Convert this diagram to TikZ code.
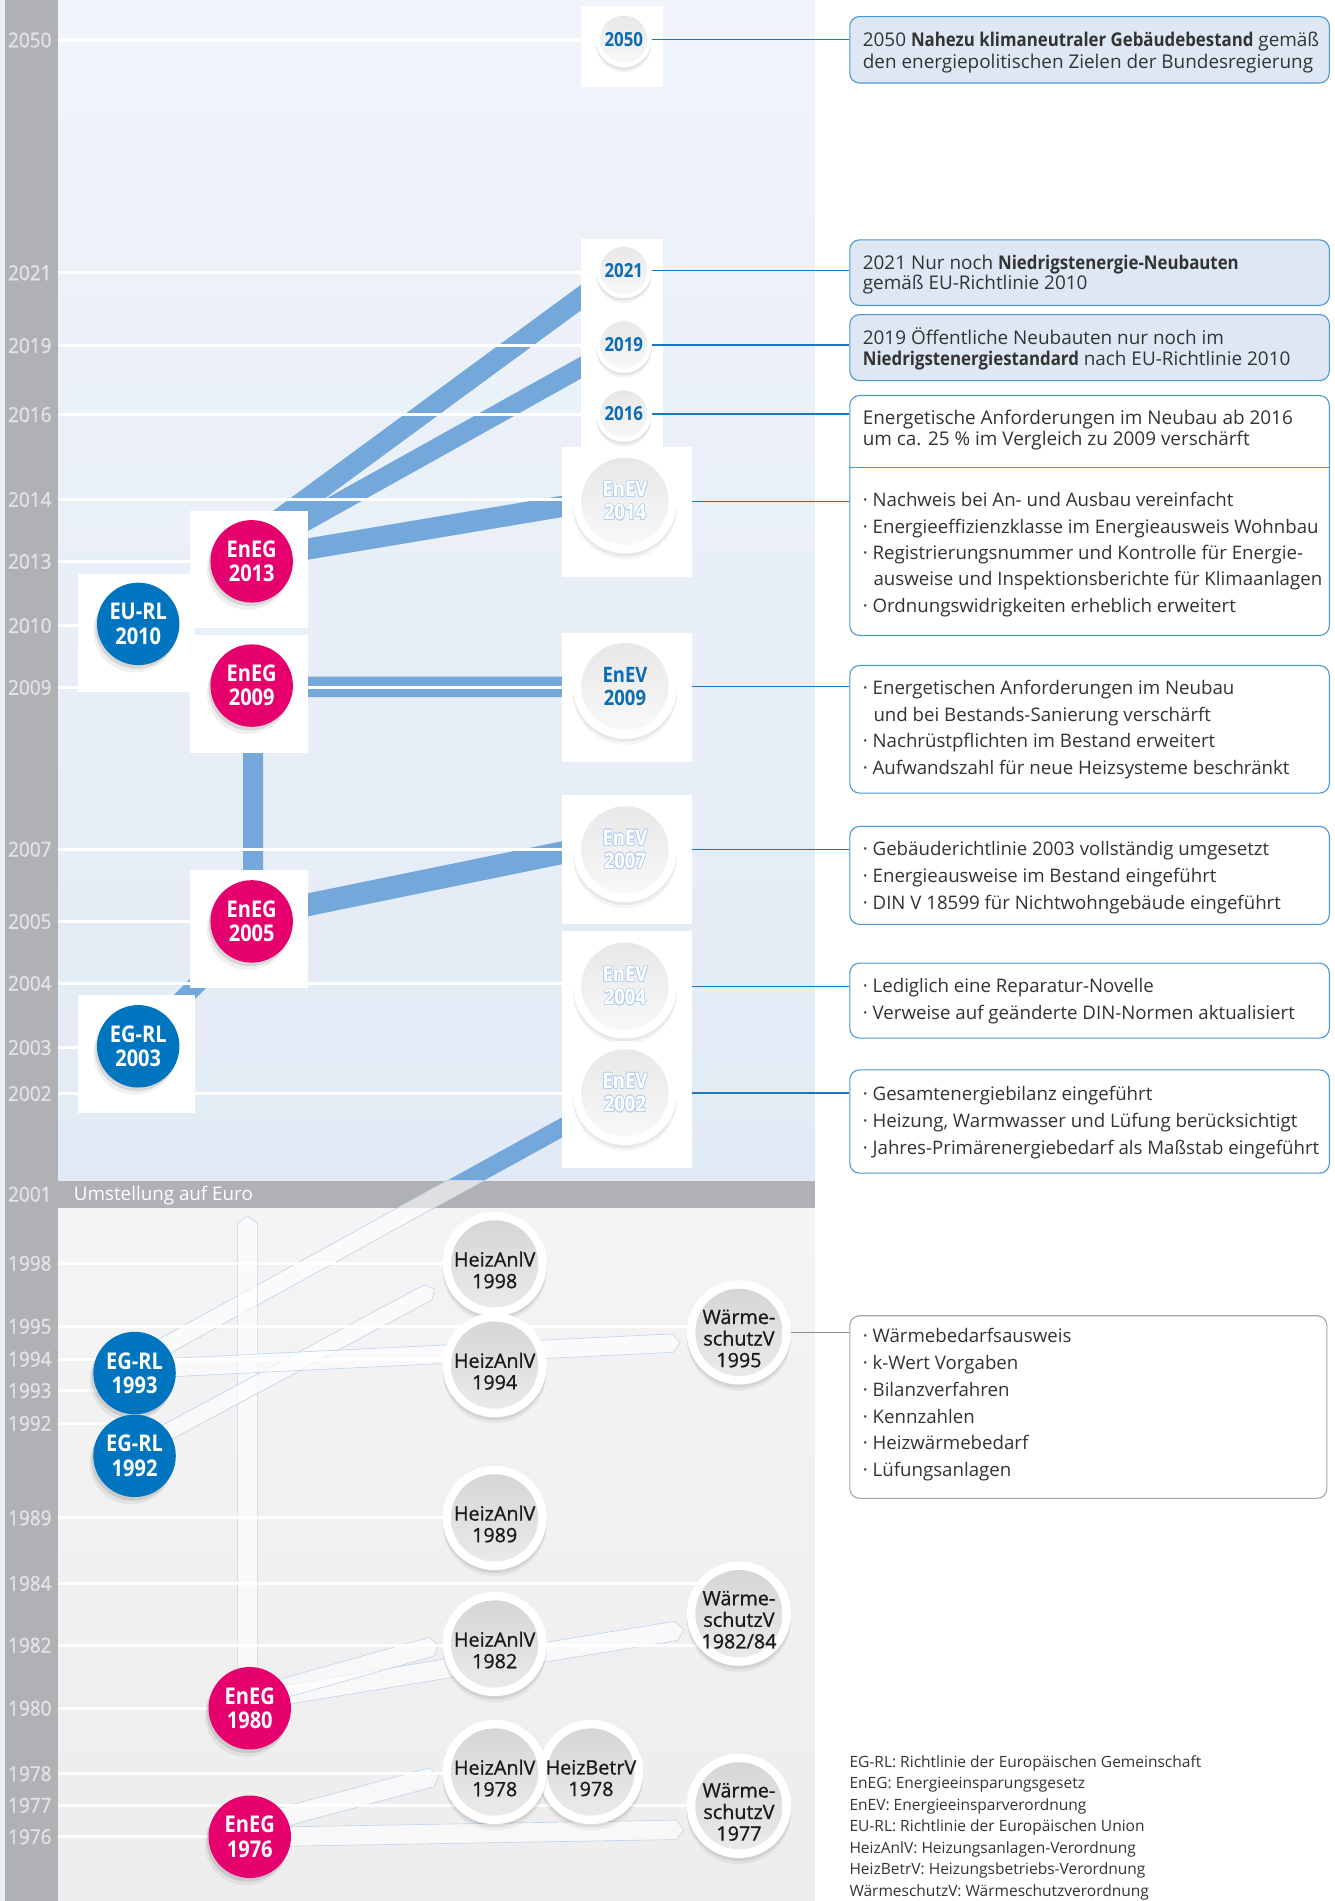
\documentclass[tikz,border=0pt]{standalone}
\usepackage{fontspec}
\setmainfont{Open Sans}[BoldFeatures={FakeStretch=0.89}]
\newfontfamily\condfont[FakeStretch=0.87]{Open Sans}
\newfontfamily\yearfont[FakeStretch=0.92, FakeBold=1.2]{Open Sans}
\newfontfamily\ringfont[FakeBold=0.8]{Open Sans}
\usepackage[copies]{contour}
\contourlength{0.55pt}
\contournumber{20}
\usetikzlibrary{calc}
\definecolor{upbgtop}{HTML}{F0F4FA}
\definecolor{upbgbot}{HTML}{E2EAF5}
\definecolor{lowbgtop}{HTML}{F4F4F4}
\definecolor{lowbgbot}{HTML}{EDEDED}
\definecolor{leftstrip}{HTML}{EBEEF2}
\definecolor{bargray}{HTML}{B0B1B5}
\definecolor{yeargray}{HTML}{E2E3E5}
\definecolor{ribblue}{HTML}{75A8DA}
\definecolor{paleedge}{HTML}{BDD4EC}
\definecolor{magenta}{HTML}{E5006D}
\definecolor{egblue}{HTML}{0075BF}
\definecolor{txtblue}{HTML}{0B6CB5}
\definecolor{boxblue}{HTML}{4A97D6}
\definecolor{boxfill}{HTML}{DEE8F5}
\definecolor{connblue}{HTML}{1A78C2}
\definecolor{txtgray}{HTML}{333333}
\definecolor{ghostblue}{HTML}{B5D1EE}
\definecolor{gconncol}{HTML}{8C8C8C}
\definecolor{gboxcol}{HTML}{A6A6A6}
\definecolor{upface1}{HTML}{E6E6E6}
\definecolor{upface2}{HTML}{FAFAFA}
\definecolor{lowface1}{HTML}{D4D4D4}
\definecolor{lowface2}{HTML}{ECECEC}
\definecolor{ringtxt}{HTML}{1A1A1A}
\newcommand{\ghost}[1]{\contour{ghostblue}{\textcolor{white}{#1}}}
\newcommand{\ribbon}[4][bribbon]{%
  \path[#1] ($(#2)!#4!90:(#3)$) -- ($(#3)!#4!-90:(#2)$) -- ($(#3)!-6pt!(#2)$)
   -- ($(#3)!#4!90:(#2)$) -- ($(#2)!#4!-90:(#3)$) -- cycle;}
\newcommand{\lowcirc}[3]{%
  \node[lowring] (#1) at (#2) {};
  \node[lowtext] (#1t) at ([yshift=-5pt]#1.center) {#3};}
\begin{document}
\begin{tikzpicture}[x=1pt,y=-1pt,
  bribbon/.style={fill=ribblue},
  pribbon/.style={fill=white, fill opacity=0.6, draw=paleedge, line width=0.5pt},
  yline/.style={draw=white, line width=2.6pt},
  txt/.style={anchor=base west, inner sep=0pt, text=txtgray, font=\fontsize{15.6}{18}\selectfont},
  btxt/.style={anchor=base west, inner sep=0pt, text=txtgray, font=\fontsize{15.4}{18}\selectfont},
  legend/.style={anchor=base west, inner sep=0pt, text=txtgray, font=\fontsize{12.8}{14}\selectfont},
  yearlbl/.style={anchor=west, inner sep=0pt, text=yeargray, font=\yearfont\fontsize{17}{17}\selectfont},
  colcirc/.style={circle, minimum size=68pt, inner sep=0pt, align=center, text=white, fill=#1,
     font=\condfont\bfseries\fontsize{19}{20}\selectfont,
     preaction={fill=black, opacity=0.06, transform canvas={shift={(-3pt,-6pt)}}},
     preaction={fill=black, opacity=0.10, transform canvas={shift={(-1.5pt,-3pt)}}}},
  upring/.style={circle, minimum size=86pt, inner sep=0pt, fill=white, align=center,
     font=\condfont\bfseries\fontsize{17.5}{19}\selectfont,
     preaction={fill=black, opacity=0.04, transform canvas={yshift=-5pt}},
     preaction={fill=black, opacity=0.05, transform canvas={yshift=-2.5pt}},
     path picture={\shade[top color=upface1, bottom color=upface2] (path picture bounding box.center) circle (36pt);}},
  lowring/.style={circle, minimum size=86pt, inner sep=0pt, fill=white,
     preaction={fill=black, opacity=0.05, transform canvas={yshift=-5pt}},
     preaction={fill=black, opacity=0.07, transform canvas={yshift=-2.5pt}},
     path picture={\shade[top color=lowface1, bottom color=lowface2] (path picture bounding box.center) circle (36pt);}},
  lowtext/.style={align=center, inner sep=0pt, text=ringtxt, font=\ringfont\fontsize{16.3}{17.8}\selectfont},
  smallring/.style={circle, minimum size=46pt, inner sep=0pt, fill=white, text=txtblue,
     font=\condfont\bfseries\fontsize{16}{16}\selectfont,
     preaction={fill=black, opacity=0.05, transform canvas={yshift=-4pt}},
     preaction={fill=black, opacity=0.06, transform canvas={yshift=-2pt}},
     path picture={\shade[top color=upface1, bottom color=upface2] (path picture bounding box.center) circle (19.5pt);}},
  rbox/.style={draw=#1, line width=0.9pt, rounded corners=8pt, inner sep=0pt, anchor=north west, minimum width=395.5pt},
  conn/.style={draw=connblue, line width=1pt},
  gconn/.style={draw=gconncol, line width=1pt}
]
\useasboundingbox (0,0) rectangle (1101,1568);
% ---------- backgrounds
\fill[leftstrip] (0,0) rectangle (4.5,1568);
\shade[top color=upbgtop, bottom color=upbgbot] (47.5,0) rectangle (672,974);
\shade[top color=lowbgtop, bottom color=lowbgbot] (47.5,996) rectangle (672,1568);
\fill[bargray] (4.5,0) rectangle (47.5,1568);
\fill[bargray] (4.5,974) rectangle (672,996);
% ---------- ribbon coordinates
\coordinate (r1a) at (215,439.5);   \coordinate (r1b) at (492,236);
\coordinate (r2a) at (225,445);     \coordinate (r2b) at (492,296);
\coordinate (r3a) at (235,456);     \coordinate (r3b) at (475,415.8);
\coordinate (r4a) at (235,566.5);   \coordinate (r4b) at (475,566.5);
\coordinate (r5a) at (208.75,730);  \coordinate (r5b) at (208.75,610);
\coordinate (r6a) at (235,750.2);   \coordinate (r6b) at (475,701);
\coordinate (r7a) at (115,859.5);   \coordinate (r7b) at (195,779.5);
\coordinate (raa) at (125,1116.2);  \coordinate (rab) at (475,923.7);
\coordinate (rba) at (125,1188.2);  \coordinate (rbb) at (353,1066);
\coordinate (rca) at (140,1128);    \coordinate (rcb) at (555,1107.8);
\coordinate (rea) at (204.25,1385); \coordinate (reb) at (204.25,1009);
\coordinate (rf1a) at (225,1395);   \coordinate (rf1b) at (356,1358.2);
\coordinate (rf2a) at (225,1399.7); \coordinate (rf2b) at (558,1345.1);
\coordinate (rga) at (225,1501);    \coordinate (rgb) at (356,1466);
\coordinate (rha) at (225,1515);    \coordinate (rhb) at (558,1509.3);
% ---------- blue ribbons (upper part)
\ribbon{r1a}{r1b}{8.5pt}
\ribbon{r2a}{r2b}{8pt}
\ribbon{r3a}{r3b}{8.7pt}
\ribbon{r4a}{r4b}{8.5pt}
\ribbon{r5a}{r5b}{8.25pt}
\ribbon{r6a}{r6b}{9.3pt}
\ribbon{r7a}{r7b}{7.4pt}
\begin{scope}
  \clip (0,0) rectangle (1101,974);
  \ribbon{raa}{rab}{7.3pt}
\end{scope}
% ---------- pale ribbons (lower part)
\begin{scope}
  \clip (0,974) rectangle (1101,1568);
  \ribbon[pribbon]{raa}{rab}{7.3pt}
\end{scope}
\ribbon[pribbon]{rea}{reb}{8.25pt}
\ribbon[pribbon]{rba}{rbb}{7pt}
\ribbon[pribbon]{rca}{rcb}{7.6pt}
\ribbon[pribbon]{rf2a}{rf2b}{8pt}
\ribbon[pribbon]{rf1a}{rf1b}{8pt}
\ribbon[pribbon]{rga}{rgb}{8pt}
\ribbon[pribbon]{rha}{rhb}{8pt}
% ---------- year lines
\foreach \yy/\xe in {33/480, 225/480, 285/480, 342/480, 412/464, 463/157, 516/64, 567/464,
  700.5/464, 760/157, 811/464, 864/64, 902/464, 1042/408, 1094/609, 1121/408, 1147/111,
  1174/111, 1252/408, 1306/609, 1357/609, 1409/206, 1463/408, 1489/609, 1515/206}
  \draw[yline] (47.5,\yy) -- (\xe,\yy);
% ---------- white squares
\fill[white] (479,5) rectangle (547,72);
\fill[white] (479,197) rectangle (547,369);
\fill[white] (463.5,368.5) rectangle (570.7,475.6);
\fill[white] (463.5,522) rectangle (570.7,628.5);
\fill[white] (463.5,655.7) rectangle (570.7,762);
\fill[white] (463.5,768) rectangle (570.7,963.5);
\fill[white] (64,473.5) rectangle (161,570.7);
\fill[white] (157,421.5) rectangle (254,518);
\fill[white] (157,523.7) rectangle (254,620.8);
\fill[white] (157,718) rectangle (254,815);
\fill[white] (64,821) rectangle (161,918);
% ---------- upper circles
\node[smallring] (c2050) at (514.5,32.5) {2050};
\node[smallring] (c2021) at (514.5,223) {2021};
\node[smallring] (c2019) at (514.5,284.5) {2019};
\node[smallring] (c2016) at (514.5,341.5) {2016};
\node[upring] (cE14) at (515.5,413.5) {\ghost{EnEV}\\\ghost{2014}};
\node[upring, text=txtblue] (cE09) at (515.5,566.3) {EnEV\\2009};
\node[upring] (cE07) at (515.5,701) {\ghost{EnEV}\\\ghost{2007}};
\node[upring] (cE04) at (515.5,813.5) {\ghost{EnEV}\\\ghost{2004}};
\node[upring] (cE02) at (515.5,901.5) {\ghost{EnEV}\\\ghost{2002}};
\node[colcirc=egblue] (cEU10) at (114,514.6) {EU-RL\\2010};
\node[colcirc=magenta] (cEG13) at (207.6,463) {EnEG\\2013};
\node[colcirc=magenta] (cEG09) at (207.6,565.5) {EnEG\\2009};
\node[colcirc=magenta] (cEG05) at (207.6,760) {EnEG\\2005};
\node[colcirc=egblue] (cEG03) at (114,863) {EG-RL\\2003};
% ---------- lower circles
\lowcirc{cB78}{487.4,1461.6}{HeizBetrV\\1978}
\lowcirc{cH78}{408,1461.6}{HeizAnlV\\1978}
\lowcirc{cH98}{408,1042.5}{HeizAnlV\\1998}
\lowcirc{cH94}{408,1126}{HeizAnlV\\1994}
\lowcirc{cH89}{408,1252}{HeizAnlV\\1989}
\lowcirc{cH82}{408,1356}{HeizAnlV\\1982}
\lowcirc{cW95}{609.5,1099}{Wärme-\\schutzV\\1995}
\lowcirc{cW82}{609.5,1331}{Wärme-\\schutzV\\1982/84}
\lowcirc{cW77}{609.5,1489.5}{Wärme-\\schutzV\\1977}
\node[colcirc=egblue] (cEG93) at (111,1132.5) {EG-RL\\1993};
\node[colcirc=egblue] (cEG92) at (111,1200.8) {EG-RL\\1992};
\node[colcirc=magenta] (cEG80) at (206,1409) {EnEG\\1980};
\node[colcirc=magenta] (cEG76) at (206,1515) {EnEG\\1976};
% ---------- right boxes
\node[rbox=boxblue, fill=boxfill, minimum height=54.8pt] (B2050) at (700.5,13.2) {};
\node[rbox=boxblue, fill=boxfill, minimum height=54.1pt] (B2021) at (700.5,197.4) {};
\node[rbox=boxblue, fill=boxfill, minimum height=54.5pt] (B2019) at (700.5,259) {};
\node[rbox=boxblue, fill=white, minimum height=197.9pt] (B2016) at (700.5,325.8) {};
\coordinate (div) at (700.5,385.4);
\draw[boxblue, line width=0.9pt] (div) -- (div -| B2016.east);
\node[rbox=boxblue, fill=white, minimum height=105.2pt] (B2009) at (700.5,548.5) {};
\node[rbox=boxblue, fill=white, minimum height=80.8pt] (B2007) at (700.5,681.2) {};
\node[rbox=boxblue, fill=white, minimum height=61.8pt] (B2004) at (700.5,794) {};
\node[rbox=boxblue, fill=white, minimum height=85.2pt] (B2002) at (700.5,882) {};
\node[rbox=gboxcol, fill=white, minimum width=393.5pt, minimum height=150.6pt] (BW95) at (700.5,1084.8) {};
% ---------- connectors
\draw[conn] (c2050.east) -- (c2050.east -| B2050.west);
\draw[conn] (c2021.east) -- (c2021.east -| B2021.west);
\draw[conn] (c2019.east) -- (c2019.east -| B2019.west);
\draw[conn] (c2016.east) -- (c2016.east -| B2016.west);
\draw[conn] ([xshift=12.2pt]cE14.east) -- (cE14.east -| B2016.west);
\draw[conn] ([xshift=12.2pt]cE09.east) -- (cE09.east -| B2009.west);
\draw[conn] ([xshift=12.2pt]cE07.east) -- (cE07.east -| B2007.west);
\draw[conn] ([xshift=12.2pt]cE04.east) -- (cE04.east -| B2004.west);
\draw[conn] ([xshift=12.2pt]cE02.east) -- (cE02.east -| B2002.west);
\draw[gconn] (cW95.east) -- (cW95.east -| BW95.west);
% ---------- box texts
\node[txt] (t01) at (711.5,38.5) {2050 \textbf{Nahezu klimaneutraler Gebäudebestand} gemäß};
\node[txt] (t02) at (711.5,56.4) {den energiepolitischen Zielen der Bundesregierung};
\node[txt] (t03) at (711.5,222) {2021 Nur noch \textbf{Niedrigstenergie-Neubauten}};
\node[txt] (t04) at (711.5,239) {gemäß EU-Richtlinie 2010};
\node[txt] (t05) at (711.5,284) {2019 Öffentliche Neubauten nur noch im};
\node[txt] (t06) at (711.5,301.6) {\textbf{Niedrigstenergiestandard} nach EU-Richtlinie 2010};
\node[txt] (t07) at (711.5,350.5) {Energetische Anforderungen im Neubau ab 2016};
\node[txt] (t08) at (711.5,367.6) {um ca. 25~\% im Vergleich zu 2009 verschärft};
\node[btxt] (t09) at (711.5,417.9) {· Nachweis bei An- und Ausbau vereinfacht};
\node[btxt] (t10) at (711.5,439.9) {· Energieeffizienzklasse im Energieausweis Wohnbau};
\node[btxt] (t11) at (711.5,461.9) {· Registrierungsnummer und Kontrolle für Energie-};
\node[btxt] (t12) at (720.3,483) {ausweise und Inspektionsberichte für Klimaanlagen};
\node[btxt] (t13) at (711.5,505) {· Ordnungswidrigkeiten erheblich erweitert};
\node[btxt] (t14) at (711.5,573.2) {· Energetischen Anforderungen im Neubau};
\node[btxt] (t15) at (720.3,595.2) {und bei Bestands-Sanierung verschärft};
\node[btxt] (t16) at (711.5,616.6) {· Nachrüstpflichten im Bestand erweitert};
\node[btxt] (t17) at (711.5,638.6) {· Aufwandszahl für neue Heizsysteme beschränkt};
\node[btxt] (t18) at (711.5,706) {· Gebäuderichtlinie 2003 vollständig umgesetzt};
\node[btxt] (t19) at (711.5,728) {· Energieausweise im Bestand eingeführt};
\node[btxt] (t20) at (711.5,750) {· DIN V 18599 für Nichtwohngebäude eingeführt};
\node[btxt] (t21) at (711.5,818.7) {· Lediglich eine Reparatur-Novelle};
\node[btxt] (t22) at (711.5,840.7) {· Verweise auf geänderte DIN-Normen aktualisiert};
\node[btxt] (t23) at (711.5,908) {· Gesamtenergiebilanz eingeführt};
\node[btxt] (t24) at (711.5,930) {· Heizung, Warmwasser und Lüfung berücksichtigt};
\node[btxt] (t25) at (711.5,952) {· Jahres-Primärenergiebedarf als Maßstab eingeführt};
\node[btxt] (t26) at (711.5,1107.5) {· Wärmebedarfsausweis};
\node[btxt] (t27) at (711.5,1129.7) {· k-Wert Vorgaben};
\node[btxt] (t28) at (711.5,1151.7) {· Bilanzverfahren};
\node[btxt] (t29) at (711.5,1173.8) {· Kennzahlen};
\node[btxt] (t30) at (711.5,1195.8) {· Heizwärmebedarf};
\node[btxt] (t31) at (711.5,1218) {· Lüfungsanlagen};
% ---------- legend
\node[legend] (l1) at (700.5,1458) {EG-RL: Richtlinie der Europäischen Gemeinschaft};
\node[legend] (l2) at (700.5,1475.6) {EnEG: Energieeinsparungsgesetz};
\node[legend] (l3) at (700.5,1493.3) {EnEV: Energieeinsparverordnung};
\node[legend] (l4) at (700.5,1511) {EU-RL: Richtlinie der Europäischen Union};
\node[legend] (l5) at (700.5,1528.6) {HeizAnlV: Heizungsanlagen-Verordnung};
\node[legend] (l6) at (700.5,1546.3) {HeizBetrV: Heizungsbetriebs-Verordnung};
\node[legend] (l7) at (700.5,1564) {WärmeschutzV: Wärmeschutzverordnung};
% ---------- year labels
\foreach \yy/\lab in {33/2050, 225/2021, 285/2019, 342/2016, 412/2014, 463/2013, 516/2010,
  567/2009, 700.5/2007, 760/2005, 811/2004, 864/2003, 902/2002, 985/2001, 1042/1998,
  1094/1995, 1121/1994, 1147/1993, 1174/1992, 1252/1989, 1306/1984, 1357/1982, 1409/1980,
  1463/1978, 1489/1977, 1515/1976}
  \node[yearlbl] (yl\lab) at (6.5,\yy) {\lab};
\node[anchor=base west, inner sep=0pt, text=white, font=\fontsize{15.5}{18}\selectfont] (euro) at (60.8,990) {Umstellung auf Euro};
\end{tikzpicture}
\end{document}
